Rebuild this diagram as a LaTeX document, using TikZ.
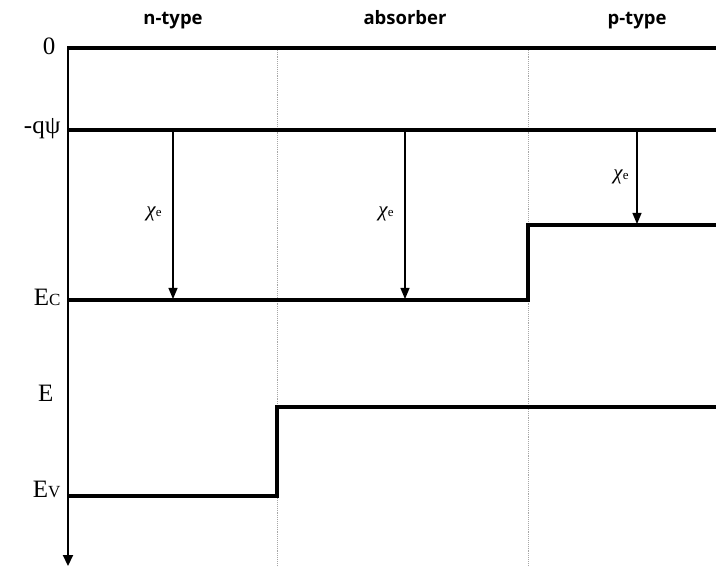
\documentclass[tikz,border=0pt]{standalone}
\usepackage{fontspec}
\setmainfont{Liberation Serif}
\newfontfamily\headfont{Open Sans}
\usetikzlibrary{arrows.meta}
\begin{document}
\begin{tikzpicture}[x=1pt,y=-1pt,
  level/.style={line width=3.2pt},
  axis/.style={line width=2.2pt,-{Triangle[width=10pt,length=11pt]}},
  divider/.style={gray!70,line width=0.9pt,densely dotted},
  affinity/.style={line width=1.1pt,-{Triangle[width=9pt,length=11pt]}},
  header/.style={anchor=base,font=\headfont\bfseries\fontsize{18.5}{20}\selectfont},
  ylabel/.style={anchor=east,font=\fontsize{25}{27}\selectfont},
  chilabel/.style={font=\fontsize{21}{22}\selectfont}]
\useasboundingbox (0,0) rectangle (716,567);
% region headers
\node[header] (hn) at (173,25) {n-type};
\node[header] (ha) at (405,25) {absorber};
\node[header] (hp) at (637,25) {p-type};
% region boundaries
\coordinate (d1t) at (277,48); \coordinate (d1b) at (277,567);
\coordinate (d2t) at (528,48); \coordinate (d2b) at (528,567);
\draw[divider] (d1t) -- (d1b);
\draw[divider] (d2t) -- (d2b);
% energy axis
\coordinate (o) at (68,47);
\coordinate (oend) at (68,566);
\draw[axis] (o) -- (oend);
% vacuum reference and -q psi level
\coordinate (zl) at (67,48);
\coordinate (zr) at (716,48);
\coordinate (psil) at (68,130); \coordinate (psir) at (716,130);
\draw[level] (zl) -- (zr);
\draw[level] (psil) -- (psir);
% conduction band edge
\coordinate (c0) at (68,300); \coordinate (c1) at (528,300);
\coordinate (c2) at (528,225); \coordinate (c3) at (716,225);
\draw[level,line join=miter] (c0) -- (c1) -- (c2) -- (c3);
% valence band edge
\coordinate (v0) at (68,496); \coordinate (v1) at (277,496);
\coordinate (v2) at (277,407); \coordinate (v3) at (716,407);
\draw[level,line join=miter] (v0) -- (v1) -- (v2) -- (v3);
% electron affinity arrows
\coordinate (a1s) at (173,131); \coordinate (a1e) at (173,299);
\coordinate (a2s) at (405,131); \coordinate (a2e) at (405,299);
\coordinate (a3s) at (637,131); \coordinate (a3e) at (637,224);
\draw[affinity] (a1s) -- (a1e);
\draw[affinity] (a2s) -- (a2e);
\draw[affinity] (a3s) -- (a3e);
\node[chilabel] (x1) at (154,214) {\textit{χ}\fontsize{13}{14}\selectfont e};
\node[chilabel] (x2) at (386,214) {\textit{χ}\fontsize{13}{14}\selectfont e};
\node[chilabel] (x3) at (621,177) {\textit{χ}\fontsize{13}{14}\selectfont e};
% axis labels
\node[ylabel] (l0) at (59,46) {0};
\node[ylabel] (lpsi) at (64,129) {-qψ};
\node[ylabel] (lec) at (64,297) {E{\fontsize{17}{18}\selectfont C}};
\node[ylabel] (le) at (57,393) {E};
\node[ylabel] (lev) at (64,489) {E{\fontsize{17}{18}\selectfont V}};
\end{tikzpicture}
\end{document}
